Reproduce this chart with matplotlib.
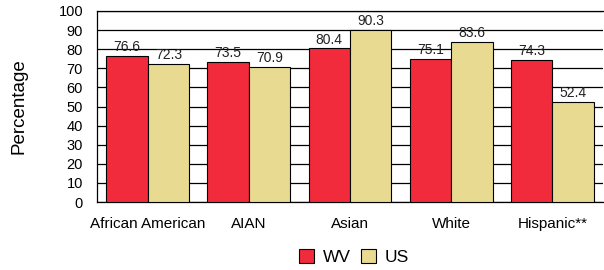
import numpy as np
import matplotlib
matplotlib.use("Agg")
from matplotlib import pyplot as plt

categories = ['African American', 'AIAN', 'Asian', 'White', 'Hispanic**']
wv = [76.6, 73.5, 80.4, 75.1, 74.3]
us = [72.3, 70.9, 90.3, 83.6, 52.4]

plt.rcParams['font.family'] = ['Liberation Sans', 'DejaVu Sans']

fig = plt.figure(figsize=(6.04, 2.7), dpi=100)
ax = fig.add_axes([97 / 604, 1 - 202 / 270, 506 / 604, 191 / 270])

x = np.arange(len(categories))
w = 0.41
b1 = ax.bar(x - w / 2, wv, w, color='#F22B3C', edgecolor='black', linewidth=0.8, label='WV', zorder=3)
b2 = ax.bar(x + w / 2, us, w, color='#E8DA90', edgecolor='black', linewidth=0.8, label='US', zorder=3)
for bars, vals in ((b1, wv), (b2, us)):
    for r, v in zip(bars, vals):
        ax.text(r.get_x() + r.get_width() / 2, v + 1.0, f'{v:.1f}', ha='center', va='bottom',
                fontsize=10, color='#222222')

ax.set_xlim(-0.5, len(categories) - 0.5)
ax.set_ylim(0, 100)
ax.set_yticks(np.arange(0, 101, 10))
ax.set_xticks(x)
ax.set_xticklabels(categories, fontsize=11)
ax.tick_params(axis='x', length=0, pad=11)
ax.tick_params(axis='y', length=0, pad=10, labelsize=10.5)
ax.yaxis.grid(True, color='black', linewidth=0.9, zorder=0)
ax.set_axisbelow(True)
for s in ax.spines.values():
    s.set_color('black')
    s.set_linewidth(0.9)
ax.spines['right'].set_visible(False)
ax.set_ylabel('Percentage', fontsize=13.5)
ax.yaxis.set_label_coords(-(97 - 28) / 506, 0.5)

fig.legend(handles=[b1, b2], labels=['WV', 'US'], loc='center', bbox_to_anchor=(354 / 604, 1 - 257 / 270),
           ncol=2, frameon=False, handlelength=0.9, handleheight=0.9, handletextpad=0.5, columnspacing=0.55,
           fontsize=12.5)

fig.savefig('out.png', dpi=100)
